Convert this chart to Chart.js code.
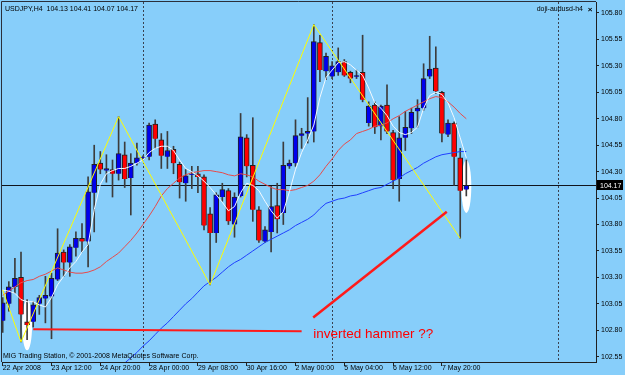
<!DOCTYPE html>
<html>
<head>
<meta charset="utf-8">
<script src="https://cdn.jsdelivr.net/npm/chart.js@4.4.1/dist/chart.umd.min.js"></script>
<style>
  html, body { margin: 0; padding: 0; background: #87cefa; }
  #wrap { width: 625px; height: 375px; }
</style>
</head>
<body>
<div id="wrap"><canvas id="chart" width="625" height="375"></canvas></div>
<script>
// USDJPY H4 candles, one entry per bar (bar 0 = 22 Apr 2008)
const opens  = [102.89,103.05,103.21,103.30,102.88,102.88,103.05,103.10,103.12,103.28,
                103.54,103.44,103.58,103.67,103.64,104.10,104.38,104.31,104.32,104.28,
                104.46,104.24,104.38,104.43,104.44,104.75,104.60,104.44,104.51,104.37,
                104.19,104.27,104.28,104.25,103.90,103.72,104.06,104.12,103.80,104.07,
                104.62,104.36,103.94,103.64,103.73,103.98,103.91,104.35,104.38,104.64,
                104.66,104.68,105.52,105.25,105.20,105.24,105.34,105.24,105.20,105.24,
                104.76,104.93,104.73,104.93,104.67,104.23,104.62,104.71,104.87,104.90,
                105.20,105.28,105.05,104.65,104.76,104.43,104.13];
const highs  = [103.11,103.26,103.48,103.54,103.09,103.07,103.13,103.31,103.34,103.76,
                103.56,103.61,103.73,103.81,104.25,104.55,104.49,104.46,104.41,104.82,
                104.58,104.47,104.57,104.45,104.76,104.79,104.66,104.68,104.54,104.39,
                104.32,104.35,104.35,104.27,103.96,104.10,104.19,104.14,104.10,104.85,
                104.65,104.81,103.97,103.78,104.16,104.19,104.58,104.41,104.79,104.71,
                105.00,105.69,105.59,105.42,105.34,105.47,105.36,105.25,105.26,105.59,
                104.96,104.96,104.93,105.12,104.69,104.82,104.87,104.90,104.98,105.32,
                105.58,105.48,105.06,104.79,104.77,104.52,104.41];
const lows   = [102.78,102.98,103.15,102.69,102.71,102.83,102.95,102.87,102.72,103.27,
                103.31,103.31,103.50,103.54,103.40,103.73,104.28,104.20,104.06,104.22,
                104.15,103.89,104.36,104.41,104.41,104.52,104.33,104.33,104.28,104.05,
                104.02,104.14,104.10,103.75,103.23,103.63,104.02,103.80,103.68,104.06,
                104.25,103.83,103.63,103.63,103.54,103.72,103.80,104.33,104.35,104.52,
                104.57,104.58,105.15,105.17,105.18,105.21,105.20,105.14,105.18,104.96,
                104.73,104.66,104.60,104.66,104.14,104.02,104.50,104.66,104.72,104.88,
                105.18,105.04,104.58,104.63,104.17,103.67,104.07];
const closes = [103.06,103.21,103.29,102.95,102.85,103.04,103.11,103.13,103.29,103.53,
                103.44,103.59,103.67,103.64,104.11,104.37,104.32,104.33,104.28,104.47,
                104.23,104.38,104.43,104.43,104.74,104.61,104.45,104.50,104.38,104.20,
                104.26,104.27,104.25,103.79,103.72,104.08,104.13,103.83,104.06,104.63,
                104.35,103.94,103.65,103.75,103.97,103.85,104.36,104.38,104.64,104.66,
                104.68,105.53,105.26,105.39,105.30,105.34,105.21,105.18,105.20,104.98,
                104.92,104.72,104.92,104.68,104.22,104.62,104.72,104.86,104.90,105.18,
                105.27,105.06,104.66,104.76,104.44,104.12,104.17];

// moving averages (white = fast, red = middle, blue = slow)
const whiteMA = [103.18,103.17,103.15,103.09,103.07,103.07,103.04,103.02,103.11,103.23,
                 103.31,103.39,103.45,103.54,103.61,103.94,104.18,104.28,104.31,104.33,
                 104.33,104.35,104.38,104.41,104.48,104.52,104.54,104.54,104.50,104.41,
                 104.33,104.30,104.26,104.21,104.15,104.08,104.01,103.93,103.97,104.10,
                 104.19,104.17,104.12,104.02,103.93,103.86,103.92,104.11,104.32,104.48,
                 104.60,104.74,105.00,105.19,105.26,105.33,105.34,105.31,105.26,105.21,
                 105.09,104.95,104.90,104.83,104.73,104.67,104.65,104.67,104.72,104.90,
                 105.02,105.05,105.03,104.95,104.81,104.62,104.43];
const redMA   = [103.13,103.17,103.21,103.25,103.27,103.28,103.31,103.33,103.36,103.39,
                 103.37,103.35,103.34,103.34,103.35,103.37,103.40,103.45,103.49,103.53,
                 103.59,103.65,103.72,103.80,103.88,103.97,104.07,104.14,104.19,104.24,
                 104.27,104.29,104.30,104.31,104.31,104.30,104.29,104.27,104.26,104.28,
                 104.27,104.25,104.21,104.18,104.15,104.13,104.13,104.12,104.13,104.15,
                 104.17,104.21,104.27,104.35,104.42,104.50,104.56,104.60,104.66,104.68,
                 104.70,104.73,104.74,104.76,104.80,104.83,104.87,104.90,104.93,104.96,
                 104.99,105.01,105.00,104.96,104.91,104.85,104.80];
const blueMA  = [null,null,null,null,null,null,null,null,null,null,
                 null,null,null,null,null,null,null,null,null,null,
                 102.49,102.54,102.59,102.65,102.70,102.76,102.82,102.87,102.93,102.99,
                 103.05,103.10,103.16,103.22,103.26,103.30,103.35,103.40,103.44,103.47,
                 103.51,103.55,103.59,103.63,103.66,103.69,103.72,103.75,103.79,103.82,
                 103.85,103.89,103.95,104.00,104.02,104.04,104.05,104.07,104.08,104.10,
                 104.12,104.14,104.15,104.18,104.21,104.24,104.28,104.31,104.34,104.38,
                 104.41,104.44,104.46,104.47,104.48,104.49,104.49];

// zigzag pivots (bar index, price)
const zigzagBars   = [0, 3, 19, 34, 51, 75];
const zigzagValues = [103.18, 102.69, 104.82, 103.23, 105.69, 103.67];

// hand-drawn objects
const supportBars   = [5.0, 49.0];
const supportPrices = [102.81, 102.79];
const trendBars     = [50.9, 72.8];
const trendPrices   = [102.92, 103.92];
const ellipseBars   = [4, 76];
const ellipseTops   = [103.09, 104.41];
const ellipseBottoms = [102.61, 103.91];
const separatorBars = [23, 54, 91];
const noteText  = 'inverted hammer ??';
const noteBar   = 50.9;
const notePrice = 102.73;

// axes
const xTickBars   = [0, 8, 16, 24, 32, 40, 48, 56, 64, 72];
const xTickLabels = ['22 Apr 2008', '23 Apr 12:00', '24 Apr 20:00', '28 Apr 00:00', '29 Apr 08:00',
                     '30 Apr 16:00', '2 May 00:00', '5 May 04:00', '6 May 12:00', '7 May 20:00'];
const yTicks = [102.55, 102.80, 103.05, 103.30, 103.55, 103.80, 104.05, 104.30, 104.55, 104.80, 105.05, 105.30, 105.55, 105.80];

const chartTitle = 'USDJPY,H4  104.13 104.41 104.07 104.17';
const indicatorName = 'doji-audusd-h4';
const copyright = 'MIG Trading Station, \u00a9 2001-2008 MetaQuotes Software Corp.';

const FONT = '"Liberation Sans", Arial, sans-serif';
const BG = '#87cefa';
const last = closes.length - 1;

const bodyData = closes.map((c, i) => {
  let o = opens[i];
  // a doji still needs a visible dash
  if (Math.abs(o - c) < 0.005) c = o + 0.008;
  return { x: i, y: [o, c] };
});
const wickData = closes.map((c, i) => ({ x: i, y: [lows[i], highs[i]] }));
const bodyColors = closes.map((c, i) => c >= opens[i] ? '#0000ee' : '#ff0000');
const series = arr => arr.map((v, i) => ({ x: i, y: v }));

const decor = {
  id: 'decor',
  beforeDraw(chart) {
    const ctx = chart.ctx;
    ctx.save();
    ctx.fillStyle = BG;
    ctx.fillRect(0, 0, chart.width, chart.height);
    ctx.restore();
  },
  beforeDatasetsDraw(chart) {
    const { ctx, chartArea: a, scales: { x, y } } = chart;
    ctx.save();
    ctx.beginPath();
    ctx.rect(a.left, a.top, a.right - a.left, a.bottom - a.top);
    ctx.clip();

    // white ellipses around the marked candles
    ctx.fillStyle = '#ffffff';
    ellipseBars.forEach((b, i) => {
      const cx = x.getPixelForValue(b);
      const t = y.getPixelForValue(ellipseTops[i]);
      const btm = y.getPixelForValue(ellipseBottoms[i]);
      ctx.beginPath();
      ctx.ellipse(cx, (t + btm) / 2, 5, (btm - t) / 2, 0, 0, Math.PI * 2);
      ctx.fill();
    });

    // weekly separators
    ctx.strokeStyle = '#3a4250';
    ctx.lineWidth = 1;
    ctx.setLineDash([2, 2]);
    separatorBars.forEach(b => {
      const px = Math.round(x.getPixelForValue(b)) + 0.5;
      ctx.beginPath();
      ctx.moveTo(px, a.top);
      ctx.lineTo(px, a.bottom);
      ctx.stroke();
    });
    ctx.setLineDash([]);

    // bid line
    const by = Math.round(y.getPixelForValue(closes[last])) + 0.5;
    ctx.strokeStyle = '#10141c';
    ctx.beginPath();
    ctx.moveTo(a.left, by);
    ctx.lineTo(a.right, by);
    ctx.stroke();
    ctx.restore();
  },
  afterDraw(chart) {
    const { ctx, chartArea: a, scales: { x, y } } = chart;
    ctx.save();
    // frame on the top and left
    ctx.strokeStyle = '#2a2f3a';
    ctx.lineWidth = 1;
    ctx.beginPath();
    ctx.moveTo(a.left - 0.5, a.bottom);
    ctx.lineTo(a.left - 0.5, a.top - 0.5);
    ctx.lineTo(a.right, a.top - 0.5);
    ctx.stroke();

    ctx.fillStyle = '#000';
    ctx.font = '7px ' + FONT;
    ctx.textBaseline = 'alphabetic';
    ctx.textAlign = 'left';
    ctx.fillText(chartTitle, 5, 10.5);
    ctx.fillText(copyright, 3, 358);
    ctx.textAlign = 'right';
    ctx.fillText(indicatorName, 583, 10.5);
    ctx.font = 'bold 8px ' + FONT;
    ctx.textAlign = 'center';
    ctx.fillText('\u00d7', 590, 11.5);

    // annotation text
    ctx.fillStyle = '#ff0000';
    ctx.font = '13.5px ' + FONT;
    ctx.textAlign = 'left';
    ctx.fillText(noteText, x.getPixelForValue(noteBar), y.getPixelForValue(notePrice));

    // current price tag
    const by = y.getPixelForValue(closes[last]);
    ctx.fillStyle = '#000';
    ctx.fillRect(a.right + 1, Math.round(by) - 5, 26, 10);
    ctx.fillStyle = '#fff';
    ctx.font = '7px ' + FONT;
    ctx.textAlign = 'left';
    ctx.textBaseline = 'middle';
    ctx.fillText(closes[last].toFixed(2), a.right + 4, by + 0.5);
    ctx.restore();
  }
};

const lineDs = (label, data, color, width, order) => ({
  type: 'line', label, data, borderColor: color, borderWidth: width,
  pointRadius: 0, tension: 0, fill: false, spanGaps: false, order
});

new Chart(document.getElementById('chart'), {
  type: 'bar',
  data: {
    datasets: [
      lineDs('Trend', trendBars.map((b, i) => ({ x: b, y: trendPrices[i] })), '#ff1a1a', 2.5, 1),
      lineDs('Support', supportBars.map((b, i) => ({ x: b, y: supportPrices[i] })), '#ff1a1a', 2, 1),
      lineDs('ZigZag', zigzagBars.map((b, i) => ({ x: b, y: zigzagValues[i] })), '#ffff00', 1, 2),
      lineDs('MA fast', series(whiteMA), '#f4faff', 1, 3),
      lineDs('MA mid', series(redMA), '#e84a4a', 1, 3),
      lineDs('MA slow', series(blueMA), '#2040ff', 1, 3),
      {
        type: 'bar', label: 'Body', data: bodyData,
        backgroundColor: bodyColors, borderColor: '#222222', borderWidth: 1,
        barThickness: 5, maxBarThickness: 5, grouped: false, order: 5
      },
      {
        type: 'bar', label: 'Wick', data: wickData,
        backgroundColor: '#3c3c3c', borderWidth: 0,
        barThickness: 1, maxBarThickness: 1, grouped: false, order: 6
      }
    ]
  },
  options: {
    responsive: false,
    devicePixelRatio: 1,
    animation: false,
    events: [],
    layout: { padding: { left: 2, top: 2, right: 0, bottom: 0 } },
    plugins: { legend: { display: false }, tooltip: { enabled: false } },
    scales: {
      x: {
        type: 'linear', min: -0.115, max: 97.26, offset: false,
        afterBuildTicks: s => { s.ticks = xTickBars.map(v => ({ value: v })); },
        afterFit: s => { s.height = 13; s.paddingLeft = 0; s.paddingRight = 0; },
        ticks: {
          autoSkip: false, maxRotation: 0, minRotation: 0, align: 'start', padding: -2,
          color: '#000', font: { family: FONT, size: 7 },
          callback: (v, i) => xTickLabels[i]
        },
        grid: { drawOnChartArea: false, drawTicks: true, tickLength: 4, color: '#202020', offset: false },
        border: { display: true, color: '#202020', width: 1 }
      },
      y: {
        type: 'linear', position: 'right', min: 102.50, max: 105.904,
        afterBuildTicks: s => { s.ticks = yTicks.map(v => ({ value: v })); },
        afterFit: s => { s.width = 29; s.paddingTop = 0; s.paddingBottom = 0; },
        ticks: {
          padding: 2, color: '#000', font: { family: FONT, size: 7 },
          callback: v => v.toFixed(2)
        },
        grid: { drawOnChartArea: false, drawTicks: true, tickLength: 3, color: '#202020' },
        border: { display: true, color: '#202020', width: 1 }
      }
    }
  },
  plugins: [decor]
});
</script>
</body>
</html>
